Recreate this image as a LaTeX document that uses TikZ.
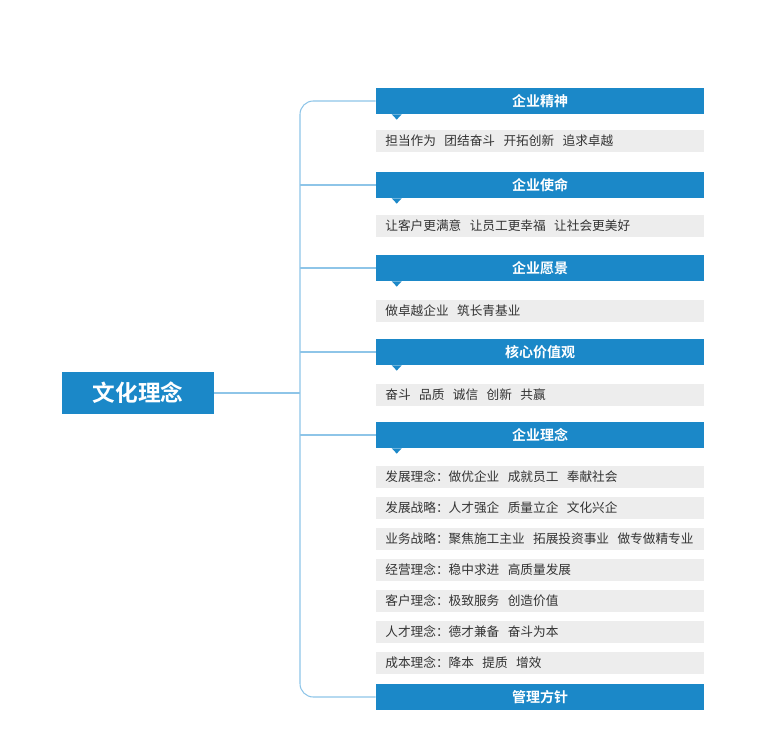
\documentclass[tikz,border=0pt]{standalone}
\usepackage{fontspec}
\setmainfont{Noto Sans CJK SC}
\newfontfamily\boldcjk{Noto Sans CJK SC Bold}
\definecolor{hdblue}{HTML}{1B88C8}
\definecolor{lnblue}{HTML}{8EC5E8}
\definecolor{rowgray}{HTML}{EDEDED}
\definecolor{rowtext}{HTML}{333333}
\tikzset{
  headbar/.style={fill=hdblue, text=white, minimum width=246pt, minimum height=19.5pt,
    inner sep=0pt, font=\boldcjk\fontsize{10.5}{12}\selectfont},
  rowbar/.style={fill=rowgray, text=rowtext, minimum width=246pt, minimum height=16.5pt,
    inner sep=0pt, text width=232pt, align=left, font=\fontsize{9.5}{11}\selectfont},
  branch/.style={draw=lnblue, line width=0.8pt},
}
\begin{document}
\begin{tikzpicture}[x=0.75pt,y=-0.75pt]
  \useasboundingbox (0,0) rectangle (780,752);
  \node[fill=hdblue, text=white, minimum width=114pt, minimum height=31.5pt,
    font=\boldcjk\fontsize{17}{20}\selectfont] (root) at (138,393) {文化理念};
  % headers
  \foreach \name/\y/\txt in {jingshen/101/企业精神, shiming/185/企业使命, yuanjing/268/企业愿景,
      hexin/352/核心价值观, linian/435/企业理念, guanli/697/管理方针} {
    \node[headbar] (\name) at (540,\y) {\txt};
  }
  % notches
  \foreach \name in {jingshen, shiming, yuanjing, hexin, linian} {
    \fill[hdblue] ([xshift=12pt]\name.south west) -- ++(7.5pt,0) -- ++(-3.75pt,-4pt) -- cycle;
  }
  % rows
  \foreach \name/\y/\txt in {r1/141/担当作为\ \ 团结奋斗\ \ 开拓创新\ \ 追求卓越,
      r2/226/让客户更满意\ \ 让员工更幸福\ \ 让社会更美好,
      r3/311/做卓越企业\ \ 筑长青基业,
      r4/395/奋斗\ \ 品质\ \ 诚信\ \ 创新\ \ 共赢,
      l1/477/发展理念：做优企业\ \ 成就员工\ \ 奉献社会,
      l2/508/发展战略：人才强企\ \ 质量立企\ \ 文化兴企,
      l3/539/业务战略：聚焦施工主业\ \ 拓展投资事业\ \ 做专做精专业,
      l4/570/经营理念：稳中求进\ \ 高质量发展,
      l5/601/客户理念：极致服务\ \ 创造价值,
      l6/632/人才理念：德才兼备\ \ 奋斗为本,
      l7/663/成本理念：降本\ \ 提质\ \ 增效} {
    \node[rowbar] (\name) at (540,\y) {\txt};
  }
  % connectors
  \coordinate (spine) at (300,393);
  \draw[branch] (root.east) -- (spine);
  \draw[branch, rounded corners=10pt] (jingshen.west) -| (spine) |- (guanli.west);
  \foreach \name in {shiming, yuanjing, hexin, linian} {
    \draw[branch] (spine |- \name.west) -- (\name.west);
  }
\end{tikzpicture}
\end{document}
